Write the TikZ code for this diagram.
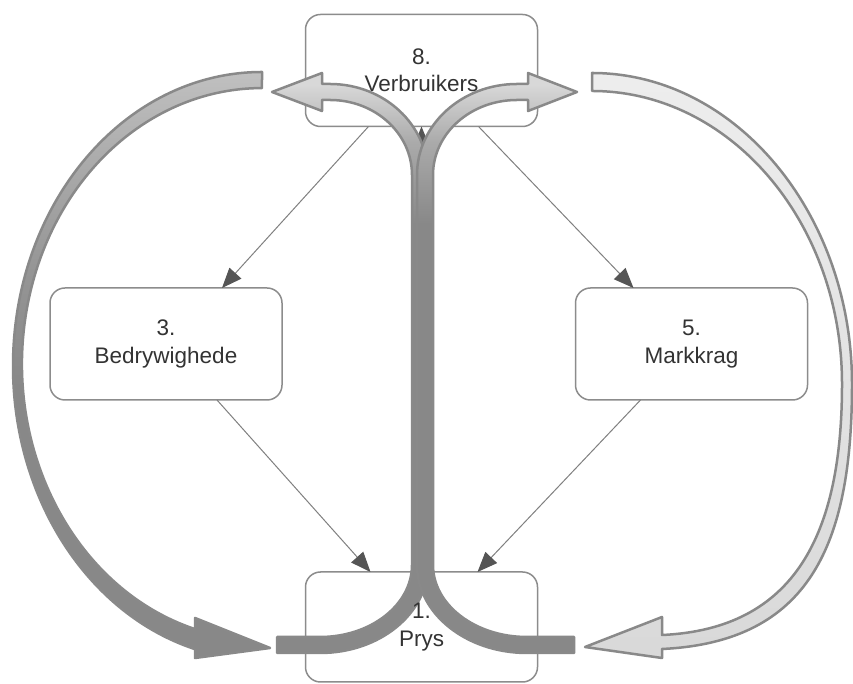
\documentclass[tikz,border=0pt]{standalone}
\usepackage{fontspec}
\setmainfont{Liberation Sans}
\usetikzlibrary{arrows.meta}

\definecolor{boxline}{HTML}{8C8C8C}
\definecolor{linkline}{HTML}{808080}
\definecolor{linktip}{HTML}{555555}
\definecolor{bandedge}{HTML}{898989}
\definecolor{labeltext}{HTML}{333333}
\definecolor{g88}{HTML}{888888}
\definecolor{g95}{HTML}{959595}
\definecolor{gaa}{HTML}{AAAAAA}
\definecolor{gc4}{HTML}{C0C0C0}
\definecolor{gd6}{HTML}{D8D8D8}

% vertical fades: path bounding box spans 25bp..75bp
\pgfdeclareverticalshading{outerfade}{100bp}{color(0bp)=(g88); color(48bp)=(g88); color(58bp)=(g95); color(67bp)=(gaa); color(75bp)=(gc4); color(100bp)=(gc4)}
\pgfdeclareverticalshading{stemfade}{100bp}{color(0bp)=(g88); color(62bp)=(g88); color(69bp)=(gaa); color(74bp)=(gd6); color(100bp)=(gd6)}

\begin{document}
\begin{tikzpicture}[x=1pt,y=1pt,
  box/.style={draw=boxline, line width=1.5pt, rounded corners=15pt, fill=white,
    minimum width=232pt, minimum height=112pt, inner sep=0pt, outer sep=0pt},
  label/.style={text=labeltext, align=center, font=\fontsize{22.5}{27.5}\selectfont},
  link/.style={draw=linkline, line width=1pt, -{Triangle[length=20pt,width=16pt,color=linktip]}},
  band/.style={draw=bandedge, line width=2.5pt, line join=round},
]
\fill[white] (0,0) rectangle (853,684);
\useasboundingbox (0,0) rectangle (853,684);

% frames
\node[box] (B8) at (421.5,613.5) {};
\node[box] (B3) at (166,340) {};
\node[box] (B5) at (691.5,340) {};
\node[box, minimum height=110pt] (B1) at (421.5,57) {};

% thin links
\draw[link] ([xshift=-53pt]B8.south) -- ([xshift=56pt]B3.north);
\draw[link] ([xshift=57pt]B8.south) -- ([xshift=-58pt]B5.north);
\draw[link] ([xshift=51pt]B3.south) -- ([xshift=-51pt]B1.north);
\draw[link] ([xshift=-51pt]B5.south) -- ([xshift=56pt]B1.north);
\draw[link] (B1.north) -- (B8.south);

% left outer band
\shadedraw[band, shading=outerfade] (262,612)
  arc[start angle=90, end angle=254.4, x radius=249pt, y radius=294pt]
  -- (195,26) -- (270,36) -- (195,66) -- (195,54.9)
  arc[start angle=253.79, end angle=90, x radius=240pt, y radius=276pt] -- cycle;

% right outer band
\shadedraw[band, top color=black!7, bottom color=black!15] (592,611)
  .. controls (735,611) and (852,471) .. (852,300)
  .. controls (852,140) and (810,42) .. (662,35)
  -- (662,26) -- (585,37) -- (662,67) -- (662,49)
  .. controls (795,55) and (842,150) .. (842,300)
  .. controls (842,462) and (730,593) .. (592,593) -- cycle;

% central band, left branch
\shadedraw[band, shading=stemfade] (272,592) -- (322,611) -- (322,600) -- (330,600)
  arc[start angle=90, end angle=0, x radius=98pt, y radius=91pt] -- (428,119)
  arc[start angle=0, end angle=-90, x radius=108pt, y radius=88pt]
  -- (277,31) -- (277,47) -- (320,47)
  arc[start angle=-90, end angle=0, x radius=92pt, y radius=72pt] -- (412,509)
  arc[start angle=0, end angle=90, x radius=82pt, y radius=75pt]
  -- (322,584) -- (322,573) -- cycle;

% central band, right branch
\shadedraw[band, shading=stemfade] (577,592) -- (528,611) -- (528,600) -- (517,600)
  arc[start angle=90, end angle=180, x radius=100pt, y radius=91pt] -- (417,119)
  arc[start angle=180, end angle=270, x radius=110pt, y radius=88pt]
  -- (574,31) -- (574,47) -- (527,47)
  arc[start angle=270, end angle=180, x radius=94pt, y radius=72pt] -- (433,509)
  arc[start angle=180, end angle=90, x radius=84pt, y radius=75pt]
  -- (528,584) -- (528,573) -- cycle;

% labels
\node[label] (T8) at (B8.center) {8.\\Verbruikers};
\node[label] (T3) at (B3.center) {3.\\Bedrywighede};
\node[label] (T5) at (B5.center) {5.\\Markkrag};
\node[label] (T1) at (B1.center) {1.\\Prys};
\end{tikzpicture}
\end{document}
